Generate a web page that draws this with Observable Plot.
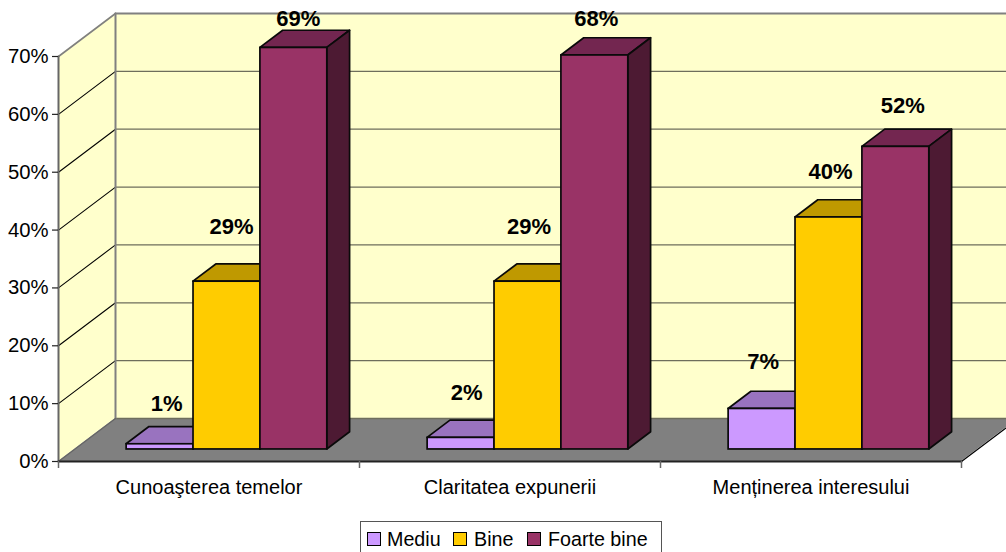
<!DOCTYPE html>
<html>
<head>
<meta charset="utf-8">
<script src="https://cdn.jsdelivr.net/npm/d3@7"></script>
<script src="https://cdn.jsdelivr.net/npm/@observablehq/plot@0.6"></script>
<style>
html,body{margin:0;padding:0;width:1006px;height:552px;overflow:hidden;background:#fff}
#chart svg{display:block}
#legend{position:absolute;left:360px;top:521px;width:300px;height:40px;border:1px solid #555;box-sizing:content-box;font:19.7px "Liberation Sans",Arial,sans-serif;color:#000}
#legend i{position:absolute;top:10px;width:12px;height:12px;border:1px solid #000}
#legend span{position:absolute;top:5px;line-height:24px;white-space:nowrap}
</style>
</head>
<body>
<div id="chart"></div>
<div id="legend"></div>
<script>
const categories = ["Cunoaşterea temelor", "Claritatea expunerii", "Menținerea interesului"];
const seriesNames = ["Mediu", "Bine", "Foarte bine"];
const mediu = [0.9, 2, 7];
const bine = [29, 29, 40.1];
const foarteBine = [69.4, 68.1, 52.3];
const mediuLabels = ["1%", "2%", "7%"];
const bineLabels = ["29%", "29%", "40%"];
const foarteBineLabels = ["69%", "68%", "52%"];
const axisTicks = [0, 10, 20, 30, 40, 50, 60, 70];

const frontColors = ["#CC99FF", "#FFCC00", "#993366"];
const topColors = ["#9973BF", "#BF9900", "#732650"];
const sideColors = ["#664D80", "#806600", "#4D1A33"];
// nudges of the hand-placed data labels, in pixels from the top front edge of each bar
const labelDx = [[6.5, 4.5, 4.5], [5.5, 1, 1.5], [1, 1.5, 7]];
const labelDy = [[-40, -55, -29], [-45, -55, -36], [-47, -45, -41]];

// oblique projection of the 3D box, expressed in scale units
const pxPerCat = 301, pxPerPct = 405 / 70;
const DX = 57 / pxPerCat, DY = 43 / pxPerPct;
const barW = 1 / 4.5, gap = 0.75 * barW + 2 / pxPerCat;
const zFront = 0.28, zBack = 0.68;
const xMax = categories.length;

const values = [mediu, bine, foarteBine];
const labels = [mediuLabels, bineLabels, foarteBineLabels];
const bars = categories.flatMap((c, i) => seriesNames.map((s, j) => {
  const x1 = i + gap + j * barW + zFront * DX;
  return {id: i + "-" + j, i, j, x1, x2: x1 + barW, y1: zFront * DY, y2: zFront * DY + values[j][i],
          label: labels[j][i], front: frontColors[j], top: topColors[j], side: sideColors[j]};
}));
const dz = (zBack - zFront);
const topFaces = bars.flatMap(b => [
  {id: b.id, fill: b.top, x1: b.x1, x2: b.x2, y: b.y2},
  {id: b.id, fill: b.top, x1: b.x1 + dz * DX, x2: b.x2 + dz * DX, y: b.y2 + dz * DY}
]);
const sideFaces = bars.flatMap(b => [
  {id: b.id, fill: b.side, x: b.x2, y1: b.y1, y2: b.y2},
  {id: b.id, fill: b.side, x: b.x2 + dz * DX, y1: b.y1 + dz * DY, y2: b.y2 + dz * DY}
]);
const tickMax = axisTicks[axisTicks.length - 1];
const leftWall = [{x: 0, y1: 0, y2: tickMax}, {x: DX, y1: DY, y2: tickMax + DY}];
const backWall = [{x1: DX, x2: xMax + DX, y1: DY, y2: tickMax + DY}];
const floor = [{x1: 0, x2: xMax, y: 0}, {x1: DX, x2: xMax + DX, y: DY}];
const area4 = (data, fill, extra = {}) => Plot.area(data, {
  x1: d => d.x1 ?? d.x, x2: d => d.x2 ?? d.x,
  y1: d => d.y1 ?? d.y, y2: d => d.y2 ?? d.y, fill, ...extra});
const seg = (pts, stroke, strokeWidth) => Plot.line(pts, {x: "x", y: "y", stroke, strokeWidth});

const plot = Plot.plot({
  width: 1006, height: 521,
  marginLeft: 58, marginRight: 45, marginTop: 56, marginBottom: 60,
  style: {fontFamily: '"Liberation Sans", Arial, sans-serif', background: "#fff", color: "#000"},
  x: {domain: [0, xMax], axis: null},
  y: {domain: [0, tickMax], axis: null},
  marks: [
    Plot.rect(backWall, {x1: "x1", x2: "x2", y1: "y1", y2: "y2", fill: "#FFFFCC"}),
    area4(leftWall, "#FFFFCC"),
    area4(floor, "#808080"),
    // gridlines on the walls
    ...axisTicks.slice(1, -1).map(t => seg([{x: 0, y: t}, {x: DX, y: t + DY}], "#000", 1.1)),
    Plot.ruleY(axisTicks.slice(0, -1), {y: d => d + DY, x1: DX, x2: xMax + DX, stroke: "#6e6e5c", strokeWidth: 1.3}),
    // wall edges
    seg([{x: 0, y: tickMax}, {x: DX, y: tickMax + DY}], "#808080", 1.6),
    seg([{x: DX, y: tickMax + DY}, {x: xMax + DX, y: tickMax + DY}], "#808080", 2),
    seg([{x: DX, y: DY}, {x: DX, y: tickMax + DY}], "#808080", 2),
    seg([{x: 0, y: 0}, {x: DX, y: DY}], "#666", 1.2),
    seg([{x: 0, y: 0}, {x: 0, y: tickMax}], "#666", 2),
    seg([{x: xMax, y: 0}, {x: xMax + DX, y: DY}], "#000", 1.2),
    seg([{x: 0, y: 0}, {x: xMax, y: 0}], "#222", 2),
    // bars
    area4(topFaces, "fill", {z: "id", stroke: "#0a0a0a", strokeWidth: 1.7}),
    area4(sideFaces, "fill", {z: "id", stroke: "#0a0a0a", strokeWidth: 1.7}),
    Plot.rect(bars, {x1: "x1", x2: "x2", y1: "y1", y2: "y2", fill: "front", stroke: "#0a0a0a", strokeWidth: 1.7}),
    // axes
    Plot.axisY({ticks: axisTicks, tickFormat: d => d + "%", tickSize: 6, tickPadding: 4, fontSize: 20.3, stroke: "#222", strokeWidth: 1.2, color: "#000"}),
    Plot.axisX({ticks: d3.range(xMax + 1), tickFormat: () => "", tickSize: 7, stroke: "#666", strokeWidth: 1.5}),
    Plot.axisX({ticks: categories.map((c, i) => i + 0.5), tickFormat: d => categories[d - 0.5], tickSize: 0, tickPadding: 18, fontSize: 20, color: "#000"}),
    // data labels
    ...bars.map(b => Plot.text([b], {
      x: d => (d.x1 + d.x2) / 2, y: "y2", text: "label",
      dx: labelDx[b.i][b.j], dy: labelDy[b.i][b.j],
      fontSize: 22, fontWeight: "bold", fill: "#000", textAnchor: "middle", lineAnchor: "middle"}))
  ]
});
document.getElementById("chart").appendChild(plot);

const legend = document.getElementById("legend");
const swatchX = [6, 92, 166], textX = [26, 113, 187];
seriesNames.forEach((s, j) => {
  const sw = document.createElement("i");
  sw.style.left = swatchX[j] + "px";
  sw.style.background = frontColors[j];
  const tx = document.createElement("span");
  tx.style.left = textX[j] + "px";
  tx.textContent = s;
  legend.append(sw, tx);
});
</script>
</body>
</html>
